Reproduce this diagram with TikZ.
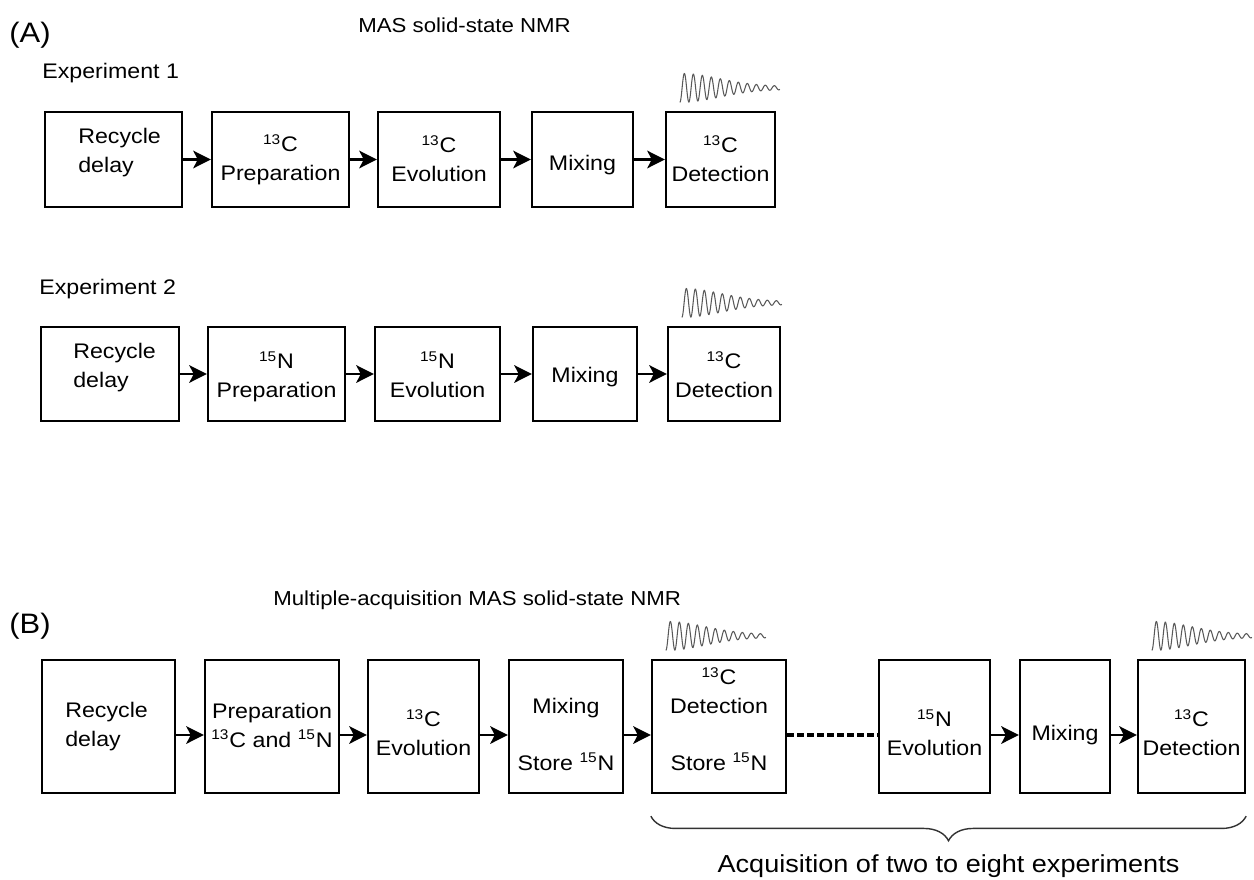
\documentclass[tikz,border=0pt]{standalone}
\usepackage{fontspec}
\setmainfont{Liberation Sans}[FakeStretch=1.1]
\usetikzlibrary{arrows.meta,decorations.pathreplacing}
\newcommand{\isot}[2]{\textsuperscript{#1}#2}
\tikzset{
  blk/.style 2 args={draw, line width=1.3pt, minimum width=#1*0.02cm, minimum height=#2*0.02cm, inner sep=0pt},
  txt/.style={font=\fontsize{12}{16}\selectfont, align=center, inner sep=0pt, anchor=base},
  ltxt/.style={txt, align=left, anchor=base west},
  arr/.style={line width=1.3pt, -{Stealth[length=10pt,width=10pt,inset=2.5pt]}},
  fid/.style={black!65, line width=0.6pt},
  brc/.style={decorate, decoration={brace, mirror, amplitude=14pt}, black!80, line width=0.8pt}
}
\newcommand{\fidat}[1]{%
  \path (#1.north west) ++(15,-23) coordinate (#1f);
  \draw[fid, shift={(#1f)}] plot[domain=0:100, samples=300, smooth] (\x, {(13*exp(-(\x/55)^2)+1.5)*cos(40*\x)});}
\begin{document}
\begin{tikzpicture}[x=0.02cm, y=-0.02cm]
\useasboundingbox (0,0) rectangle (1254,879);
% titles
\node[anchor=base west, inner sep=0pt, font=\fontsize{16}{18}\selectfont] (labA) at (9,42) {(A)};
\node[anchor=base west, inner sep=0pt, font=\fontsize{11.5}{14}\selectfont] (headA) at (358,32) {MAS solid-state NMR};
\node[anchor=base west, inner sep=0pt, font=\fontsize{12}{15}\selectfont] (exp1) at (42,78) {Experiment 1};
\node[anchor=base west, inner sep=0pt, font=\fontsize{12}{15}\selectfont] (exp2) at (39,294) {Experiment 2};
\node[anchor=base west, inner sep=0pt, font=\fontsize{16}{18}\selectfont] (labB) at (9,633) {(B)};
\node[anchor=base west, inner sep=0pt, font=\fontsize{11.5}{14}\selectfont] (headB) at (273,605) {Multiple-acquisition MAS solid-state NMR};

% experiment 1
\node[blk={137}{95}] (a1) at (113.5,159.5) {};
\node[blk={137}{95}] (a2) at (280.5,159.5) {};
\node[blk={122}{95}] (a3) at (439,159.5) {};
\node[blk={101}{95}] (a4) at (582.5,159.5) {};
\node[blk={109}{95}] (a5) at (720.5,159.5) {};
\node[ltxt] (a1t) at (78,172) {Recycle\\delay};
\node[txt] (a2t) at (280.5,180) {\isot{13}{C}\\Preparation};
\node[txt] (a3t) at (439,181) {\isot{13}{C}\\Evolution};
\node[txt] (a4t) at (582.5,170) {Mixing};
\node[txt] (a5t) at (720.5,181) {\isot{13}{C}\\Detection};
\foreach \p/\q in {a1/a2,a2/a3,a3/a4,a4/a5}
  \draw[arr] (\p.east) -- (\q.west);
\fidat{a5}

% experiment 2
\node[blk={138}{94}] (b1) at (110,374) {};
\node[blk={137}{94}] (b2) at (276.5,374) {};
\node[blk={125}{94}] (b3) at (437.5,374) {};
\node[blk={104}{94}] (b4) at (585,374) {};
\node[blk={112}{94}] (b5) at (724,374) {};
\node[ltxt] (b1t) at (73,387) {Recycle\\delay};
\node[txt] (b2t) at (276.5,397) {\isot{15}{N}\\Preparation};
\node[txt] (b3t) at (437.5,397) {\isot{15}{N}\\Evolution};
\node[txt] (b4t) at (585,382) {Mixing};
\node[txt] (b5t) at (724,397) {\isot{13}{C}\\Detection};
\foreach \p/\q in {b1/b2,b2/b3,b3/b4,b4/b5}
  \draw[arr] (\p.east) -- (\q.west);
\fidat{b5}

% multiple acquisition
\node[blk={133}{133}] (c1) at (108.5,726.5) {};
\node[blk={134}{133}] (c2) at (272,726.5) {};
\node[blk={111}{133}] (c3) at (423.5,726.5) {};
\node[blk={114}{133}] (c4) at (566,726.5) {};
\node[blk={134}{133}] (c5) at (719,726.5) {};
\node[blk={111}{133}] (c6) at (934.5,726.5) {};
\node[blk={90}{133}] (c7) at (1065,726.5) {};
\node[blk={107}{133}] (c8) at (1191.5,726.5) {};
\node[ltxt] (c1t) at (65,746) {Recycle\\delay};
\node[txt] (c2t) at (272,747) {Preparation\\\isot{13}{C} and \isot{15}{N}};
\node[txt] (c3t) at (423.5,755) {\isot{13}{C}\\Evolution};
\node[txt] (c4t) at (566,713) {Mixing};
\node[txt] (c4s) at (566,770) {Store \isot{15}{N}};
\node[txt] (c5t) at (719,713) {\isot{13}{C}\\Detection};
\node[txt] (c5s) at (719,770) {Store \isot{15}{N}};
\node[txt] (c6t) at (934.5,755) {\isot{15}{N}\\Evolution};
\node[txt] (c7t) at (1065,740) {Mixing};
\node[txt] (c8t) at (1191.5,755) {\isot{13}{C}\\Detection};
\foreach \p/\q in {c1/c2,c2/c3,c3/c4,c4/c5,c6/c7,c7/c8}
  \draw[arr] ([yshift=-0.17cm]\p.east) -- ([yshift=-0.17cm]\q.west);
\draw[line width=2pt, dash pattern=on 4pt off 1.7pt] ([yshift=-0.17cm]c5.east) -- ([yshift=-0.17cm]c6.west);
\fidat{c5}
\fidat{c8}

\draw[brc] ([yshift=-0.44cm]c5.south west) -- ([yshift=-0.44cm]c8.south east);
\node[anchor=base, inner sep=0pt, font=\fontsize{14}{17}\selectfont] (acq) at (948.5,872) {Acquisition of two to eight experiments};
\end{tikzpicture}
\end{document}
